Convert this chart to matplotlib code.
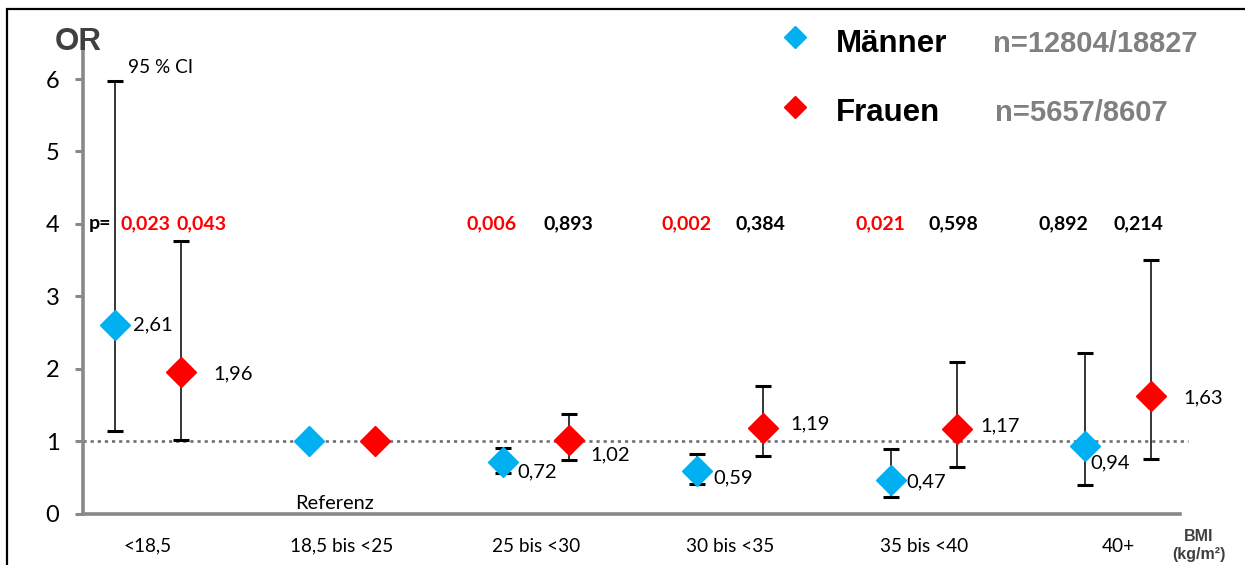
import matplotlib

matplotlib.use("Agg")
import matplotlib.pyplot as plt
from matplotlib.patches import Rectangle

# data
categories = ["<18,5", "18,5 bis <25", "25 bis <30", "30 bis <35", "35 bis <40", "40+"]
men_or = [2.61, 1.0, 0.72, 0.59, 0.47, 0.94]
men_lo = [1.15, None, 0.57, 0.41, 0.23, 0.40]
men_hi = [5.97, None, 0.91, 0.83, 0.90, 2.22]
women_or = [1.96, 1.0, 1.02, 1.19, 1.17, 1.63]
women_lo = [1.02, None, 0.745, 0.80, 0.65, 0.76]
women_hi = [3.76, None, 1.38, 1.77, 2.10, 3.50]
men_labels = ["2,61", None, "0,72", "0,59", "0,47", "0,94"]
women_labels = ["1,96", None, "1,02", "1,19", "1,17", "1,63"]
men_p = ["0,023", None, "0,006", "0,002", "0,021", "0,892"]
women_p = ["0,043", None, "0,893", "0,384", "0,598", "0,214"]
men_p_sig = [True, None, True, True, True, False]
women_p_sig = [True, None, False, False, False, False]

MEN_COLOR = "#00B0F0"
WOMEN_COLOR = "#FF0000"
AXIS_GRAY = "#898989"
FONT = "Lato"

# layout / style helpers (pixel offsets, not data)
GROUP_SHIFT = 0.17
men_label_off = [(18, 0), None, (14, -10), (16, -7), (15, -2), (5, -17)]
women_label_off = [(32, -2), None, (21, -15), (27, 4), (23, 3), (32, -2)]
men_p_x = [-0.015, None, 1.773, 2.773, 3.773, 4.716]
women_p_x = [0.278, None, 2.165, 3.155, 4.149, 5.103]

fig = plt.figure(figsize=(12.45, 5.65), dpi=100)
ax = fig.add_axes([0.0667, 0.0903, 0.8812, 0.8212])

x = list(range(len(categories)))
xm = [i - GROUP_SHIFT for i in x]
xw = [i + GROUP_SHIFT for i in x]

ax.axhline(1.0, xmin=0, xmax=1.007, color="#6f6f6f", ls=(0, (1.2, 1.5)), lw=1.9, clip_on=False, zorder=1)


def draw_ci(xs, ors, lows, highs):
    for xi, o, lo, hi in zip(xs, ors, lows, highs):
        if lo is None:
            continue
        ax.errorbar([xi], [o], yerr=[[o - lo], [hi - o]], fmt="none", ecolor="black",
                    elinewidth=1.1, capsize=5.5, capthick=2.2, zorder=2)


draw_ci(xm, men_or, men_lo, men_hi)
draw_ci(xw, women_or, women_lo, women_hi)

ax.plot(xm, men_or, ls="none", marker="D", ms=15.5, color=MEN_COLOR, mec=MEN_COLOR, zorder=3)
ax.plot(xw, women_or, ls="none", marker="D", ms=15.5, color=WOMEN_COLOR, mec=WOMEN_COLOR, zorder=3)

for xs, ors, labs, offs in [(xm, men_or, men_labels, men_label_off), (xw, women_or, women_labels, women_label_off)]:
    for xi, o, lab, off in zip(xs, ors, labs, offs):
        if lab is None:
            continue
        ax.annotate(lab, (xi, o), xytext=off, textcoords="offset pixels", ha="left", va="center",
                    fontsize=14.5, family=FONT, color="black")

for px, labs, sig in [(men_p_x, men_p, men_p_sig), (women_p_x, women_p, women_p_sig)]:
    for xi, lab, s in zip(px, labs, sig):
        if lab is None:
            continue
        ax.text(xi, 4.0, lab, ha="center", va="center", fontsize=14, fontweight="bold", family=FONT,
                color=WOMEN_COLOR if s else "black")
ax.text(-0.305, 4.0, "p=", ha="left", va="center", fontsize=14, fontweight="bold", family=FONT)

ax.annotate("95 % CI", (xm[0], men_hi[0]), xytext=(13, 14), textcoords="offset pixels",
            ha="left", va="center", fontsize=13.7, family=FONT)
ax.text(0.96, 0.15, "Referenz", ha="center", va="center", fontsize=14.4, family=FONT)

ax.set_xlim(-0.335, 5.32)
ax.set_ylim(0, 6.4)
ax.set_yticks(range(0, 7))
ax.set_xticks(x)
ax.set_xticklabels(categories, family=FONT, fontsize=13.7)
for lab in ax.get_yticklabels():
    lab.set_family(FONT)
    lab.set_fontsize(17)
ax.tick_params(axis="x", length=0, pad=17)
ax.tick_params(axis="y", length=6, width=2.2, color=AXIS_GRAY, pad=11)
for side in ["top", "right"]:
    ax.spines[side].set_visible(False)
for side in ["left", "bottom"]:
    ax.spines[side].set_color(AXIS_GRAY)
    ax.spines[side].set_linewidth(2.6)

fig.text(0.044, 0.925, "OR", fontsize=22.5, fontweight="bold", color="#404040", family="Liberation Sans",
         ha="left", va="center")
fig.text(0.963, 0.05, "BMI", fontsize=11.5, fontweight="bold", color="#404040", family="Liberation Sans",
         ha="center", va="center")
fig.text(0.963, 0.018, "(kg/m²)", fontsize=11.5, fontweight="bold", color="#404040", family="Liberation Sans",
         ha="center", va="center")

# legend drawn by hand
fig.lines.append(plt.Line2D([0.6386], [0.9345], transform=fig.transFigure, marker="D", ms=11.5,
                            color=MEN_COLOR, ls="none"))
fig.lines.append(plt.Line2D([0.6386], [0.8106], transform=fig.transFigure, marker="D", ms=11.5,
                            color=WOMEN_COLOR, ls="none"))
fig.text(0.671, 0.922, "Männer", fontsize=22.5, fontweight="bold", family="Liberation Sans", va="center")
fig.text(0.671, 0.800, "Frauen", fontsize=22.5, fontweight="bold", family="Liberation Sans", va="center")
fig.text(0.7975, 0.922, "n=12804/18827", fontsize=21, fontweight="bold", color="#808080",
         family="Liberation Sans", va="center")
fig.text(0.7992, 0.800, "n=5657/8607", fontsize=21, fontweight="bold", color="#808080",
         family="Liberation Sans", va="center")

# outer frame
fig.patches.append(Rectangle((7 / 1245, -0.1), 1.2, 1 - 9 / 565 + 0.1, transform=fig.transFigure,
                             fill=False, ec="black", lw=1.6, clip_on=False))

fig.savefig("out.png", dpi=100)
